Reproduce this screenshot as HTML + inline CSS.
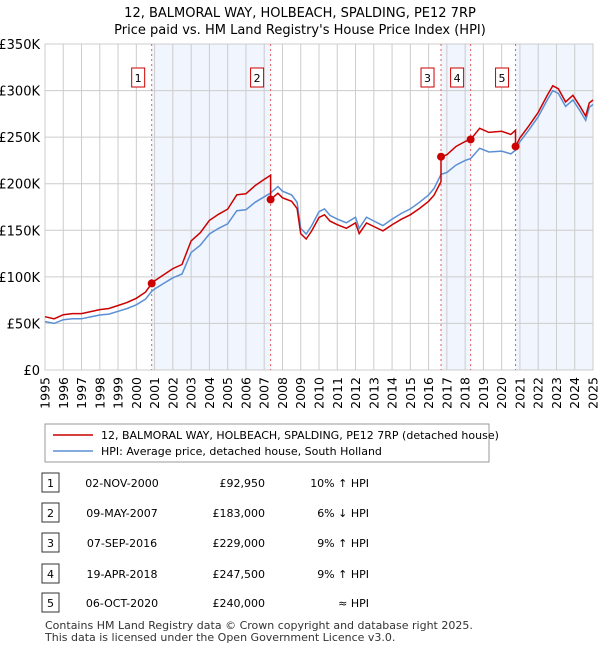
<!DOCTYPE html>
<html><head><meta charset="utf-8"><style>
body{margin:0;background:#fff;font-family:"Liberation Sans","DejaVu Sans",sans-serif;}
svg text{font-family:"DejaVu Sans","Liberation Sans",sans-serif;}
</style></head><body>
<svg id="c" width="600" height="650" viewBox="0 0 600 650"></svg>
<script>
const hpiYears=[1995,1995.5,1996,1996.5,1997,1997.5,1998,1998.5,1999,1999.5,2000,2000.5,2000.84,2001,2001.5,2002,2002.5,2003,2003.5,2004,2004.5,2005,2005.5,2006,2006.5,2007,2007.35,2007.75,2008,2008.5,2008.8,2009,2009.3,2009.6,2010,2010.3,2010.6,2011,2011.5,2012,2012.2,2012.6,2013,2013.5,2014,2014.5,2015,2015.5,2016,2016.3,2016.68,2017,2017.5,2018,2018.3,2018.8,2019.3,2020,2020.5,2020.76,2021,2021.5,2022,2022.5,2022.8,2023.1,2023.5,2023.9,2024.3,2024.6,2024.8,2025];
const hpiValues=[52,50,54,55,55,57,59,60,63,66,70,76,84.5,87,93,99,103,126,134,146,152,157,171,172,180,186,190,197,192,188,180,152,146,155,170,173,166,162,158,164,152,164,160,155,162,168,173,180,188,195,210,212,220,225,227,238,234,235,232,236,245,258,272,290,300,297,283,290,278,268,282,285];
const saleDates=[2000.84,2007.35,2016.68,2018.3,2020.76];
const salePrices=[92.95,183,229,247.5,240];
const saleLabels=["02-NOV-2000","09-MAY-2007","07-SEP-2016","19-APR-2018","06-OCT-2020"];
const salePriceText=["£92,950","£183,000","£229,000","£247,500","£240,000"];
const saleHpiText=["10% ↑ HPI","6% ↓ HPI","9% ↑ HPI","9% ↑ HPI","≈ HPI"];
const yTicks=[0,50,100,150,200,250,300,350];
const yTickLabels=["£0","£50K","£100K","£150K","£200K","£250K","£300K","£350K"];
const xTicks=[1995,1996,1997,1998,1999,2000,2001,2002,2003,2004,2005,2006,2007,2008,2009,2010,2011,2012,2013,2014,2015,2016,2017,2018,2019,2020,2021,2022,2023,2024,2025];

const L=45,R=593,T=44,B=370;
const X=t=>L+(t-1995)/30*(R-L);
const Y=v=>B-v/350*(B-T);
const NS="http://www.w3.org/2000/svg";
const svg=document.getElementById('c');
function mk(tag,attrs,parent){const e=document.createElementNS(NS,tag);for(const k in attrs)e.setAttribute(k,attrs[k]);(parent||svg).appendChild(e);return e;}
function hpiAt(t){for(let i=0;i<hpiYears.length-1;i++){if(t>=hpiYears[i]&&t<=hpiYears[i+1]){const f=(t-hpiYears[i])/(hpiYears[i+1]-hpiYears[i]);return hpiValues[i]+f*(hpiValues[i+1]-hpiValues[i]);}}return hpiValues[hpiValues.length-1];}

let t1=mk('text',{x:300,y:17,'text-anchor':'middle','font-size':13,fill:'#000'});t1.textContent="12, BALMORAL WAY, HOLBEACH, SPALDING, PE12 7RP";

let t2=mk('text',{x:300,y:34,'text-anchor':'middle','font-size':13,fill:'#000'});t2.textContent="Price paid vs. HM Land Registry's House Price Index (HPI)";


const shades=[[0,1],[2,3]];
shades.forEach(p=>{const r=mk('rect',{x:X(saleDates[p[0]]),y:T,width:X(saleDates[p[1]])-X(saleDates[p[0]]),height:B-T,fill:'#eef3fc',opacity:0.8});
});
{const r=mk('rect',{x:X(saleDates[4]),y:T,width:R-X(saleDates[4]),height:B-T,fill:'#eef3fc',opacity:0.8});
}

yTicks.forEach((v,i)=>{const l=mk('line',{x1:L,x2:R,y1:Y(v),y2:Y(v),stroke:'#ccc','stroke-width':1});

const tx=mk('text',{x:L-5,y:Y(v)+5,'text-anchor':'end','font-size':13,fill:'#000'});tx.textContent=yTickLabels[i];
});
xTicks.forEach(y=>{const l=mk('line',{x1:X(y),x2:X(y),y1:T,y2:B,stroke:'#ccc','stroke-width':1});

const tx=mk('text',{x:0,y:0,'text-anchor':'end','font-size':12.5,fill:'#000',transform:`translate(${X(y)+4.5},${B+7}) rotate(-90)`});tx.textContent=y;
});
{const a=mk('rect',{x:L,y:T,width:R-L,height:B-T,fill:'none',stroke:'#ccc'});}

saleDates.forEach((d,i)=>{const l=mk('line',{x1:X(d),x2:X(d),y1:T,y2:B,stroke:'#e06060','stroke-width':1,'stroke-dasharray':'2,3'});

const g=mk('g',{});
mk('rect',{x:X(d)-20,y:68,width:13,height:19,fill:'#fff',stroke:'#cc0000'},g);
const tx=mk('text',{x:X(d)-13.5,y:82,'text-anchor':'middle','font-size':11,fill:'#000'},g);tx.textContent=i+1;});

const hp=hpiYears.map((t,i)=>X(t).toFixed(1)+','+Y(hpiValues[i]).toFixed(1)).join(' ');
{const p=mk('polyline',{points:hp,fill:'none',stroke:'#5b8fd4','stroke-width':1.5});}

const ratios=saleDates.map((d,i)=>salePrices[i]/hpiAt(d));
const pts=[];
hpiYears.forEach((t,i)=>{let k=0;while(k<saleDates.length-1&&t>=saleDates[k+1])k++;
let ratio=ratios[k];
const si=saleDates.findIndex(d=>Math.abs(d-t)<1e-6);
if(si>0){pts.push([t,hpiValues[i]*ratios[si-1]]);}
pts.push([t,hpiValues[i]*ratio]);});
{const p=mk('polyline',{points:pts.map(q=>X(q[0]).toFixed(1)+','+Y(q[1]).toFixed(1)).join(' '),fill:'none',stroke:'#cc0000','stroke-width':1.5});
}
saleDates.forEach((d,i)=>{const c=mk('circle',{cx:X(d),cy:Y(salePrices[i]),r:4,fill:'#cc0000'});
});

const lg=mk('g',{});
mk('rect',{x:45,y:424,width:444,height:38,fill:'#fff',stroke:'#999'},lg);
mk('line',{x1:53,x2:93,y1:435,y2:435,stroke:'#cc0000','stroke-width':1.5},lg);
mk('line',{x1:53,x2:93,y1:451,y2:451,stroke:'#5b8fd4','stroke-width':1.5},lg);
let l1=mk('text',{x:101,y:439,'font-size':11,fill:'#000'},lg);l1.textContent="12, BALMORAL WAY, HOLBEACH, SPALDING, PE12 7RP (detached house)";

let l2=mk('text',{x:101,y:455,'font-size':11,fill:'#000'},lg);l2.textContent="HPI: Average price, detached house, South Holland";


const rowY=[483,513,543,574,603];
saleLabels.forEach((s,i)=>{const g=mk('g',{});
const y=rowY[i];
mk('rect',{x:42,y:y-10,width:17,height:19,fill:'#fff',stroke:'#333'},g);
let a=mk('text',{x:50.5,y:y+4,'text-anchor':'middle','font-size':11,fill:'#000'},g);a.textContent=i+1;
let b=mk('text',{x:122,y:y+4,'text-anchor':'middle','font-size':11,fill:'#000'},g);b.textContent=s;
let c=mk('text',{x:265,y:y+4,'text-anchor':'end','font-size':11,fill:'#000'},g);c.textContent=salePriceText[i];
let d=mk('text',{x:369,y:y+4,'text-anchor':'end','font-size':11,fill:'#000'},g);d.textContent=saleHpiText[i];});

let f1=mk('text',{x:45,y:629,'font-size':11,fill:'#333'});f1.textContent="Contains HM Land Registry data © Crown copyright and database right 2025.";

let f2=mk('text',{x:45,y:641,'font-size':11,fill:'#333'});f2.textContent="This data is licensed under the Open Government Licence v3.0.";

</script>
</body></html>
